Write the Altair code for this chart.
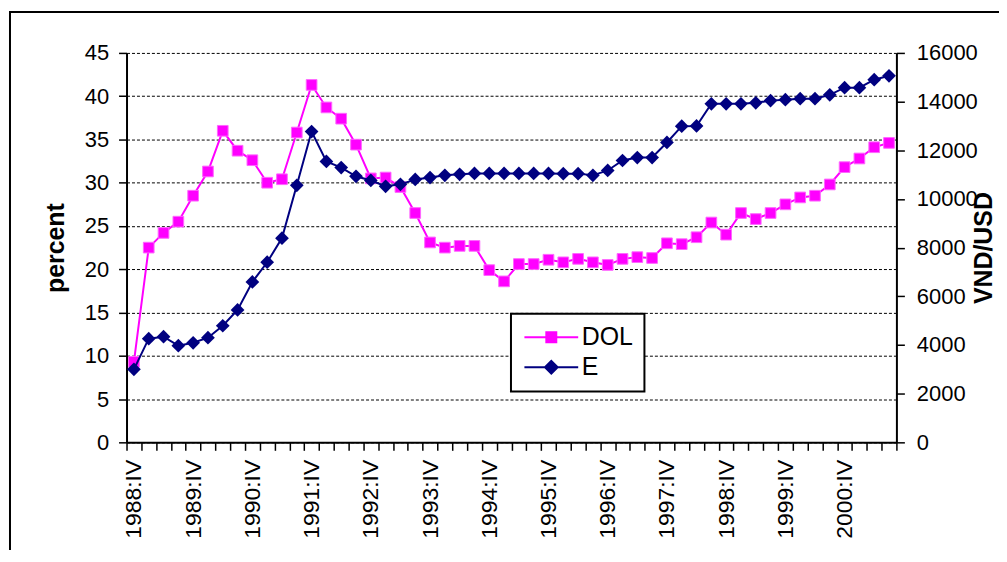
import json
import altair as alt
import pandas as pd

FONT = "Liberation Sans, Arial, sans-serif"

quarter_names = ["I", "II", "III", "IV"]
years = list(range(1988, 2002))
quarters = [f"{y}:{q}" for y in years for q in quarter_names][3:55]  # 1988:IV .. 2001:III

series_names = ["DOL", "E"]
series_colors = ["#FF00FF", "#000080"]

dol = [9.3, 22.5, 24.2, 25.5, 28.5, 31.3, 36.0, 33.7, 32.6, 30.0,
       30.4, 35.8, 41.3, 38.7, 37.4, 34.4, 30.5, 30.6, 29.5, 26.5,
       23.1, 22.5, 22.7, 22.7, 19.9, 18.6, 20.6, 20.6, 21.1, 20.8,
       21.2, 20.8, 20.5, 21.2, 21.4, 21.3, 23.0, 22.9, 23.7, 25.4,
       24.0, 26.5, 25.8, 26.5, 27.5, 28.3, 28.5, 29.8, 31.8, 32.8,
       34.1, 34.6]

e_rate = [3000, 4260, 4340, 3970, 4090, 4300, 4790, 5440, 6590, 7400,
          8390, 10560, 12770, 11540, 11290, 10930, 10760, 10520, 10600, 10800,
          10880, 10970, 11010, 11050, 11050, 11050, 11050, 11050, 11050, 11040,
          11040, 10970, 11170, 11580, 11700, 11700, 12320, 12990, 13000, 13910,
          13910, 13910, 13950, 14040, 14080, 14120, 14120, 14280, 14570, 14570,
          14900, 15060]

left_ticks = [0, 5, 10, 15, 20, 25, 30, 35, 40, 45]
right_ticks = [0, 2000, 4000, 6000, 8000, 10000, 12000, 14000, 16000]

n = len(quarters)
df = pd.DataFrame({
    "idx": list(range(n)) * 2,
    "quarter": quarters * 2,
    "series": ["DOL"] * n + ["E"] * n,
    "value": dol + e_rate,
})

tick_vals = [i - 0.5 for i in range(n + 1)] + list(range(0, n, 4))
label_expr = "datum.value % 1 === 0 ? " + json.dumps(quarters) + "[datum.value] : ''"

x_enc = alt.X(
    "idx:Q",
    scale=alt.Scale(domain=[-0.5, n - 0.5], nice=False, zero=False),
    axis=alt.Axis(
        values=tick_vals, labelExpr=label_expr, labelAngle=270,
        labelFontSize=23, labelPadding=9, tickSize=8, tickWidth=1.5,
        tickOpacity={"condition": {"test": "datum.value % 1 !== 0", "value": 1}, "value": 0},
        domainWidth=2, grid=False, title=None, labelOverlap=False, labelFlush=False,
    ),
)

# legend glyphs: a short line with the marker in the middle (filled shapes)
path_dol = "M-4.5,-0.17H4.5V0.17H-4.5ZM-1,-1H1V1H-1Z"
path_e = "M-4.5,-0.17H4.5V0.17H-4.5ZM0,-1.3L1.3,0L0,1.3L-1.3,0Z"

legend = alt.Legend(
    title=None, orient="none", legendX=386, legendY=262, direction="vertical",
    fillColor="white", strokeColor="black", padding=11,
    labelFont=FONT, labelFontSize=25, labelColor="black",
    symbolSize=144, symbolStrokeWidth=0, symbolOffset=17, labelOffset=18, rowPadding=4,
    symbolOpacity=1,
)

base = alt.Chart(df)

y_left = alt.Y(
    "value:Q", scale=alt.Scale(domain=[0, 45], nice=False),
    axis=alt.Axis(
        values=left_ticks, orient="left", title="percent", titleFontSize=25,
        titleFontWeight="bold", titleAngle=270, titleX=-71, titleY=195.5,
        titleAlign="center", titleBaseline="middle",
        grid=True, gridColor="black", gridDash=[3, 2], gridWidth=1,
        labelFontSize=22, labelPadding=10, tickSize=8, tickWidth=1.5, domainWidth=2,
    ),
)

y_right = alt.Y(
    "value:Q", scale=alt.Scale(domain=[0, 16000], nice=False),
    axis=alt.Axis(
        values=right_ticks, orient="right", format="d", title="VND/USD",
        titleFontSize=25, titleFontWeight="bold", titleAngle=270,
        titleX=87, titleY=195.5, titleAlign="center", titleBaseline="middle",
        grid=False, labelFontSize=22, labelPadding=12, tickSize=8, tickWidth=1.5,
        domainWidth=2,
    ),
)

dol_src = base.transform_filter(alt.datum.series == "DOL")
dol_line = dol_src.mark_line(strokeWidth=2, color="#FF00FF").encode(x=x_enc, y=y_left)
dol_pts = dol_src.mark_point(shape="square", filled=True, size=115, color="#FF00FF",
                             stroke="#FF66FF", strokeWidth=1, opacity=1).encode(x=x_enc, y=y_left)
dol_chart = alt.layer(dol_line, dol_pts)

e_src = base.transform_filter(alt.datum.series == "E")
e_line = e_src.mark_line(strokeWidth=2, color="#000080").encode(x=x_enc, y=y_right)
e_pts = e_src.mark_point(shape="diamond", filled=True, size=190, color="#000080",
                         opacity=1).encode(x=x_enc, y=y_right)
e_chart = alt.layer(e_line, e_pts)

# legend-only layer (no rows drawn; legend built from explicit scale domains)
legend_layer = base.transform_filter("false").mark_point(filled=True, opacity=1).encode(
    x=alt.value(0), y=alt.value(0),
    color=alt.Color("series:N", scale=alt.Scale(domain=series_names, range=series_colors),
                    legend=legend),
    shape=alt.Shape("series:N", scale=alt.Scale(domain=series_names, range=[path_dol, path_e]),
                    legend=legend),
)

frame = alt.Chart(pd.DataFrame({"f": [0]})).mark_rect(
    fillOpacity=0, stroke="black", strokeWidth=2
).encode(x=alt.value(-117), x2=alt.value(1000), y=alt.value(-41), y2=alt.value(700))

chart = alt.layer(frame, dol_chart, e_chart, legend_layer).resolve_scale(y="independent").properties(
    width=773, height=391,
    autosize=alt.AutoSizeParams(type="none"),
    padding={"left": 119, "top": 44, "right": 103, "bottom": 107},
).configure_view(strokeWidth=0).configure_axis(
    domainColor="black", tickColor="black", labelColor="black", titleColor="black",
    labelFont=FONT, titleFont=FONT,
).configure_legend(strokeWidth=2)

chart.save("out.html", embed_options={"renderer": "svg", "actions": False})
